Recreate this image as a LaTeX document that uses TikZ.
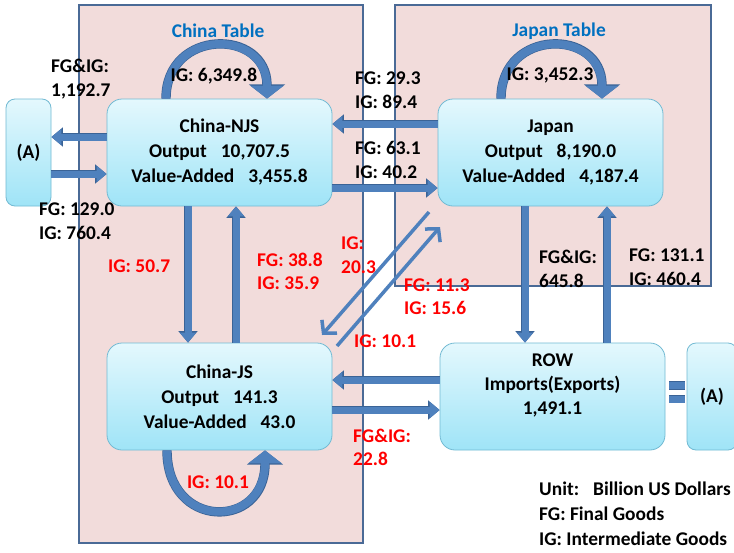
\documentclass[tikz,border=0pt]{standalone}
\usepackage{fontspec}
\setmainfont{Carlito}
\usetikzlibrary{arrows.meta}
\definecolor{tablefill}{HTML}{F2DCDB}
\definecolor{tableline}{HTML}{4A6A96}
\definecolor{boxtop}{HTML}{E4F8FD}
\definecolor{boxbot}{HTML}{9FE4F7}
\definecolor{boxline}{HTML}{72BAD3}
\definecolor{arrowfill}{HTML}{4F81BD}
\definecolor{arrowdark}{HTML}{3A6396}
\definecolor{lblred}{HTML}{FF0000}
\definecolor{lblblue}{HTML}{0070C0}
\newcommand{\gp}{\hspace{14pt}}
\begin{document}
\begin{tikzpicture}[x=1pt,y=-1pt,
  every node/.style={font=\bfseries\fontsize{19.4}{23.5}\selectfont},
  tablebox/.style={fill=tablefill, draw=tableline, line width=1.5pt},
  box/.style={draw=boxline, line width=0.8pt, rounded corners=15pt, top color=boxtop, bottom color=boxbot, minimum width=225pt, minimum height=107pt, inner sep=0pt, align=center, font=\bfseries\fontsize{19.4}{25}\selectfont},
  abox/.style={box, minimum width=45pt, rounded corners=9pt},
  boxtext/.style={inner sep=0pt, align=center, font=\bfseries\fontsize{19.4}{24}\selectfont},
  blocka/.style={line width=7pt, draw=arrowfill, -{Triangle[width=16pt,length=10pt]}, preaction={draw=arrowdark, line width=8.4pt, -{Triangle[width=18.4pt,length=11.4pt]}}},
  loopa/.style={line width=8pt, draw=arrowfill, -{Triangle[width=33pt,length=13pt]}, preaction={draw=arrowdark, line width=9.4pt, -{Triangle[width=35.5pt,length=14.2pt]}}},
  thina/.style={line width=3.5pt, draw=arrowfill, -{Straight Barb[length=9pt,width=20pt]}},
  eqbar/.style={line width=7pt, draw=arrowfill, shorten <=4pt, shorten >=2pt, preaction={draw=arrowdark, line width=8.4pt}},
  lbl/.style={inner sep=0pt, align=left, anchor=west},
  redl/.style={lbl, text=lblred},
  title/.style={inner sep=0pt, text=lblblue}
]
\useasboundingbox (0,0) rectangle (734,552);
\clip (0,0) rectangle (734,552);
\fill[white] (0,0) rectangle (734,552);

% tables
\draw[tablebox] (79,5) rectangle (363,543);
\draw[tablebox] (395,5) rectangle (711,286);
\node[title] (ctitle) at (218,31) {China Table};
\node[title] (jtitle) at (559,31) {Japan Table};

% boxes
\node[box] (njs) at (219.5,152.5) {China-NJS\\Output\gp 10,707.5\\Value-Added\gp 3,455.8};
\node[box] (jpn) at (550.5,152.5) {Japan\\Output\gp 8,190.0\\Value-Added\gp 4,187.4};
\node[box] (js) at (219.5,396.5) {China-JS\\Output\gp 141.3\\Value-Added\gp 43.0};
\node[box] (row) at (552.5,396.5) {};
\node[boxtext] (rowtext) at (552.5,385) {ROW\\Imports(Exports)\\1,491.1};
\node[abox] (Aleft) at (28.5,152.5) {(A)};
\node[abox, minimum width=50pt] (Aright) at (712,396.5) {(A)};

% block arrows
\draw[blocka] (njs.west |- 0,137) -- (Aleft.east |- 0,137);
\draw[blocka] (Aleft.east |- 0,174) -- (njs.west |- 0,174);
\draw[blocka] (jpn.west |- 0,124) -- (njs.east |- 0,124);
\draw[blocka] (njs.east |- 0,188) -- (jpn.west |- 0,188);
\draw[blocka] (njs.south -| 188,0) -- (js.north -| 188,0);
\draw[blocka] (js.north -| 236,0) -- (njs.south -| 236,0);
\draw[blocka] (jpn.south -| 525,0) -- (row.north -| 525,0);
\draw[blocka] (row.north -| 607,0) -- (jpn.south -| 607,0);
\draw[blocka] (row.west |- 0,380) -- (js.east |- 0,380);
\draw[blocka] (js.east |- 0,410) -- (row.west |- 0,410);
\draw[eqbar] (row.east |- 0,385.5) -- (Aright.west |- 0,385.5);
\draw[eqbar] (row.east |- 0,399) -- (Aright.west |- 0,399);

% self loops
\draw[loopa] (njs.north -| 166,0) .. controls (166,28) and (267,28) .. (njs.north -| 267,0);
\draw[loopa] (jpn.north -| 501,0) .. controls (501,28) and (602,28) .. (jpn.north -| 602,0);
\draw[loopa] (js.south -| 167,0) .. controls (167,530) and (265,530) .. (js.south -| 265,0);

% diagonal arrows
\coordinate (d1a) at (429,212);
\coordinate (d1b) at (322,335);
\coordinate (d2a) at (337,346);
\coordinate (d2b) at (440,227);
\draw[thina] (d1a) -- (d1b);
\draw[thina] (d2a) -- (d2b);

% black labels
\node[lbl] (l1) at (51,79) {FG\&IG:\\1,192.7};
\node[inner sep=0pt] (l2) at (214,76) {IG: 6,349.8};
\node[lbl] (l3) at (39,221) {FG: 129.0\\IG: 760.4};
\node[lbl] (l4) at (355,90) {FG: 29.3\\IG: 89.4};
\node[lbl] (l5) at (355,160) {FG: 63.1\\IG: 40.2};
\node[inner sep=0pt] (l6) at (550,75) {IG: 3,452.3};
\node[lbl] (l7) at (539,269) {FG\&IG:\\645.8};
\node[lbl] (l8) at (629,267) {FG: 131.1\\IG: 460.4};
\node[lbl, font=\bfseries\fontsize{19.4}{25}\selectfont] (unit) at (539,514) {Unit:\gp Billion US Dollars\\FG: Final Goods\\IG: Intermediate Goods};

% red labels
\node[redl] (r1) at (108,266) {IG: 50.7};
\node[redl] (r2) at (257,271.5) {FG: 38.8\\IG: 35.9};
\node[redl] (r3) at (341,255) {IG:\\20.3};
\node[redl] (r4) at (404,296.5) {FG: 11.3\\IG: 15.6};
\node[redl] (r5) at (354,341) {IG: 10.1};
\node[redl] (r6) at (353,447.5) {FG\&IG:\\22.8};
\node[inner sep=0pt, text=lblred] (r7) at (218,482) {IG: 10.1};
\end{tikzpicture}
\end{document}
